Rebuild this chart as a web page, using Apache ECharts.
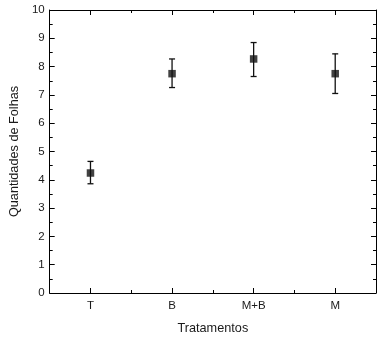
<!DOCTYPE html>
<html><head><meta charset="utf-8">
<script src="https://cdn.jsdelivr.net/npm/echarts@6/dist/echarts.min.js"></script>
<style>html,body{margin:0;padding:0;background:#fff}#c{width:384px;height:340px}</style>
</head><body><div id="c"></div>
<script>
const categories = ['T', 'B', 'M+B', 'M'];
const means = [4.24, 7.75, 8.27, 7.75];
const upper = [4.65, 8.27, 8.85, 8.45];
const lower = [3.86, 7.26, 7.65, 7.05];
const yTicks = [0, 1, 2, 3, 4, 5, 6, 7, 8, 9, 10];

const font = 'Liberation Sans, Arial, sans-serif';
const chart = echarts.init(document.getElementById('c'));
const baseY = {
  type: 'value', min: yTicks[0], max: yTicks[yTicks.length - 1], interval: 1,
  splitLine: { show: false },
  axisLine: { show: true, lineStyle: { color: '#000', width: 1 } },
  axisTick: { show: true, inside: true, length: 5, lineStyle: { color: '#000' } },
  minorTick: { show: true, splitNumber: 2, length: 3, lineStyle: { color: '#000' } },
  minorSplitLine: { show: false }
};
chart.setOption({
  animation: false,
  grid: { left: 45, right: 8, top: 10, bottom: 43, containLabel: false },
  xAxis: [
    {
      type: 'category', data: categories, position: 'bottom', boundaryGap: true,
      axisLine: { show: true, lineStyle: { color: '#000', width: 1 } },
      axisTick: { show: true, inside: true, alignWithLabel: true, length: 5, lineStyle: { color: '#000' } },
      axisLabel: { color: '#1a1a1a', fontFamily: font, fontSize: 11.5, margin: 7 },
      name: 'Tratamentos', nameLocation: 'middle', nameGap: 29,
      nameTextStyle: { color: '#1a1a1a', fontFamily: font, fontSize: 12.7 }
    },
    {
      type: 'category', data: categories, position: 'bottom', boundaryGap: true,
      axisLine: { show: false },
      axisTick: { show: true, inside: true, alignWithLabel: false, length: 3, lineStyle: { color: '#000' } },
      axisLabel: { show: false }
    },
    {
      type: 'category', data: categories, position: 'top', boundaryGap: true,
      axisLine: { show: true, lineStyle: { color: '#000', width: 1 } },
      axisTick: { show: true, inside: true, alignWithLabel: true, length: 5, lineStyle: { color: '#000' } },
      axisLabel: { show: false }
    },
    {
      type: 'category', data: categories, position: 'top', boundaryGap: true,
      axisLine: { show: false },
      axisTick: { show: true, inside: true, alignWithLabel: false, length: 3, lineStyle: { color: '#000' } },
      axisLabel: { show: false }
    }
  ],
  yAxis: [
    Object.assign({}, baseY, {
      position: 'left',
      axisLabel: { color: '#1a1a1a', fontFamily: font, fontSize: 11.5, margin: 5 },
      name: 'Quantidades de Folhas', nameLocation: 'middle', nameGap: 26,
      nameTextStyle: { color: '#1a1a1a', fontFamily: font, fontSize: 12.7 }
    }),
    Object.assign({}, baseY, { position: 'right', axisLabel: { show: false } })
  ],
  series: [
    {
      type: 'custom', xAxisIndex: 0, yAxisIndex: 0,
      data: categories.map((c, i) => [i, lower[i], upper[i]]),
      renderItem: function (params, api) {
        const x = api.value(0);
        const lo = api.coord([x, api.value(1)]);
        const hi = api.coord([x, api.value(2)]);
        const w = 3;
        const st = { stroke: '#111', lineWidth: 1.3 };
        return {
          type: 'group',
          children: [
            { type: 'line', shape: { x1: lo[0], y1: lo[1], x2: hi[0], y2: hi[1] }, style: st },
            { type: 'line', shape: { x1: hi[0] - w, y1: hi[1], x2: hi[0] + w, y2: hi[1] }, style: st },
            { type: 'line', shape: { x1: lo[0] - w, y1: lo[1], x2: lo[0] + w, y2: lo[1] }, style: st }
          ]
        };
      }
    },
    {
      type: 'scatter', xAxisIndex: 0, yAxisIndex: 0,
      symbol: 'rect', symbolSize: 7.5,
      itemStyle: { color: '#111' },
      data: means
    }
  ]
});
</script></body></html>
